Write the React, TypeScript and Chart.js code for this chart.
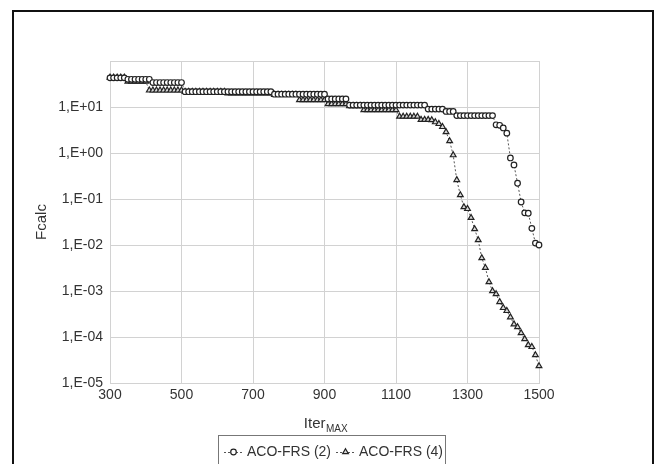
import React, { useEffect, useRef } from 'react';
import { Chart, registerables } from 'chart.js';

Chart.register(...registerables);

const FONT = '"Liberation Sans", Arial, Helvetica, sans-serif';

const iterations = [
  300, 310, 320, 330, 340, 350, 360, 370, 380, 390,
  400, 410, 420, 430, 440, 450, 460, 470, 480, 490,
  500, 510, 520, 530, 540, 550, 560, 570, 580, 590,
  600, 610, 620, 630, 640, 650, 660, 670, 680, 690,
  700, 710, 720, 730, 740, 750, 760, 770, 780, 790,
  800, 810, 820, 830, 840, 850, 860, 870, 880, 890,
  900, 910, 920, 930, 940, 950, 960, 970, 980, 990,
  1000, 1010, 1020, 1030, 1040, 1050, 1060, 1070, 1080, 1090,
  1100, 1110, 1120, 1130, 1140, 1150, 1160, 1170, 1180, 1190,
  1200, 1210, 1220, 1230, 1240, 1250, 1260, 1270, 1280, 1290,
  1300, 1310, 1320, 1330, 1340, 1350, 1360, 1370, 1380, 1390,
  1400, 1410, 1420, 1430, 1440, 1450, 1460, 1470, 1480, 1490,
  1500,
];

// ACO-FRS (2) — circles
const acoFrs2 = [
  43, 43, 43, 43, 43, 40, 40, 40, 40, 40,
  40, 40, 34, 34, 34, 34, 34, 34, 34, 34,
  34, 21.5, 21.5, 21.5, 21.5, 21.5, 21.5, 21.5, 21.5, 21.5,
  21.5, 21.5, 21.5, 21.5, 21.5, 21.5, 21.5, 21.5, 21.5, 21.5,
  21.5, 21.5, 21.5, 21.5, 21.5, 21.5, 19, 19, 19, 19,
  19, 19, 19, 19, 19, 19, 19, 19, 19, 19,
  19, 15, 15, 15, 15, 15, 15, 11, 11, 11,
  11, 11, 11, 11, 11, 11, 11, 11, 11, 11,
  11, 11, 11, 11, 11, 11, 11, 11, 11, 9,
  9, 9, 9, 9, 8, 8, 8, 6.5, 6.5, 6.5,
  6.5, 6.5, 6.5, 6.5, 6.5, 6.5, 6.5, 6.5, 4.1, 4.0,
  3.5, 2.7, 0.78, 0.55, 0.22, 0.086, 0.05, 0.049, 0.023, 0.011,
  0.010,
];

// ACO-FRS (4) — triangles
const acoFrs4 = [
  44, 44, 44, 44, 44, 36, 36, 36, 36, 36,
  36, 23, 23, 23, 23, 23, 23, 23, 23, 23,
  23, 21.5, 21.5, 21.5, 21.5, 21.5, 21.5, 21.5, 21.5, 21.5,
  21.5, 21.5, 21.5, 20, 20, 20, 20, 20, 20, 20,
  20, 20, 20, 20, 20, 20, 18.5, 18.5, 18.5, 18.5,
  18.5, 18.5, 18.5, 14.2, 14.2, 14.2, 14.2, 14.2, 14.2, 14.2,
  14.2, 11.6, 11.6, 11.6, 11.6, 11.6, 11.6, 10.5, 10.5, 10.5,
  10.5, 8.6, 8.6, 8.6, 8.6, 8.6, 8.6, 8.6, 8.6, 8.6,
  8.6, 6.2, 6.2, 6.2, 6.2, 6.2, 6.2, 5.3, 5.3, 5.3,
  5.2, 4.7, 4.3, 3.7, 2.86, 1.82, 0.9, 0.26, 0.122, 0.067,
  0.061, 0.039, 0.0223, 0.0128, 0.0052, 0.0032, 0.00157, 0.001, 0.00086, 0.00058,
  0.00043, 0.00037, 0.00027, 0.00019, 0.000165, 0.000122, 0.0000906, 0.000067, 0.000061, 0.0000406,
  0.0000234,
];

const seriesNames = ['ACO-FRS (2)', 'ACO-FRS (4)'];
const seriesMarkers = ['circle', 'triangle'];

const xTickValues = [300, 500, 700, 900, 1100, 1300, 1500];
const yTickValues = [1e-5, 1e-4, 1e-3, 1e-2, 1e-1, 1, 10, 100];
const yTickLabels = ['1,E-05', '1,E-04', '1,E-03', '1,E-02', '1,E-01', '1,E+00', '1,E+01', ''];

const yTitle = 'Fcalc';
const xTitleMain = 'Iter';
const xTitleSub = 'MAX';

function drawMarker(ctx: CanvasRenderingContext2D, style: string, x: number, y: number) {
  ctx.save();
  ctx.setLineDash([]);
  ctx.lineWidth = 1.2;
  ctx.strokeStyle = '#222';
  ctx.beginPath();
  if (style === 'circle') {
    ctx.fillStyle = '#fff';
    ctx.arc(x, y, 2.8, 0, Math.PI * 2);
  } else {
    ctx.fillStyle = '#d8d8d8';
    const r = 3.3;
    ctx.moveTo(x, y - r);
    ctx.lineTo(x + r * 0.866, y + r * 0.5);
    ctx.lineTo(x - r * 0.866, y + r * 0.5);
    ctx.closePath();
  }
  ctx.fill();
  ctx.stroke();
  ctx.restore();
}

const decorPlugin = {
  id: 'decor',
  afterDraw(chart: any) {
    const ctx: CanvasRenderingContext2D = chart.ctx;
    const area = chart.chartArea;
    ctx.save();
    // outer frame
    ctx.strokeStyle = '#111';
    ctx.lineWidth = 2;
    ctx.strokeRect(13, 11, 640, 480);

    // y title
    ctx.save();
    ctx.fillStyle = '#333';
    ctx.font = `15px ${FONT}`;
    ctx.translate(42, (area.top + area.bottom) / 2);
    ctx.rotate(-Math.PI / 2);
    ctx.textAlign = 'center';
    ctx.textBaseline = 'middle';
    ctx.fillText(yTitle, 0, 0);
    ctx.restore();

    // x title with subscript
    ctx.fillStyle = '#333';
    ctx.textAlign = 'left';
    ctx.textBaseline = 'alphabetic';
    ctx.font = `15px ${FONT}`;
    const wMain = ctx.measureText(xTitleMain).width;
    ctx.font = `10px ${FONT}`;
    const wSub = ctx.measureText(xTitleSub).width;
    const cx = (area.left + area.right) / 2 + 1;
    const startX = cx - (wMain + wSub) / 2;
    ctx.font = `15px ${FONT}`;
    ctx.fillText(xTitleMain, startX, 428);
    ctx.font = `10px ${FONT}`;
    ctx.fillText(xTitleSub, startX + wMain + 0.5, 432);

    // legend box
    ctx.strokeStyle = '#777';
    ctx.lineWidth = 1;
    ctx.strokeRect(218.5, 435.5, 227, 40);
    ctx.font = `14px ${FONT}`;
    ctx.textBaseline = 'middle';
    let x = 224;
    const ly = 452;
    seriesNames.forEach((name, i) => {
      ctx.save();
      ctx.strokeStyle = '#555';
      ctx.lineWidth = 1;
      ctx.setLineDash([2, 2]);
      ctx.beginPath();
      ctx.moveTo(x, ly + 0.5);
      ctx.lineTo(x + 19, ly + 0.5);
      ctx.stroke();
      ctx.restore();
      drawMarker(ctx, seriesMarkers[i], x + 9.5, ly);
      ctx.fillStyle = '#333';
      ctx.fillText(name, x + 23, ly);
      x = x + 23 + ctx.measureText(name).width + 5;
    });
    ctx.restore();
  },
};

export default function App() {
  const canvasRef = useRef<HTMLCanvasElement | null>(null);

  useEffect(() => {
    if (!canvasRef.current) return;
    Chart.defaults.font.family = FONT;
    const gridColor = '#d2d2d2';
    const chart = new Chart(canvasRef.current, {
      type: 'line',
      data: {
        datasets: [
          {
            label: seriesNames[0],
            data: iterations.map((it, i) => ({ x: it, y: acoFrs2[i] })),
            borderColor: '#555',
            borderWidth: 1,
            borderDash: [2, 2],
            pointStyle: 'circle',
            pointRadius: 2.8,
            pointBorderColor: '#222',
            pointBackgroundColor: '#fff',
            pointBorderWidth: 1.2,
            fill: false,
            tension: 0,
            clip: false,
          },
          {
            label: seriesNames[1],
            data: iterations.map((it, i) => ({ x: it, y: acoFrs4[i] })),
            borderColor: '#555',
            borderWidth: 1,
            borderDash: [2, 2],
            pointStyle: 'triangle',
            pointRadius: 3.3,
            pointBorderColor: '#222',
            pointBackgroundColor: '#d8d8d8',
            pointBorderWidth: 1.2,
            fill: false,
            tension: 0,
            clip: false,
          },
        ],
      },
      options: {
        animation: false,
        responsive: false,
        devicePixelRatio: 1,
        layout: { padding: { left: 0, right: 118, top: 61, bottom: 0 } },
        plugins: {
          legend: { display: false },
          tooltip: { enabled: false },
          title: { display: false },
        },
        scales: {
          x: {
            type: 'linear',
            min: 300,
            max: 1500,
            afterBuildTicks: (s: any) => {
              s.ticks = xTickValues.map((v) => ({ value: v }));
            },
            afterFit: (s: any) => {
              s.height = 81;
              s.paddingLeft = 0;
              s.paddingRight = 0;
            },
            grid: { color: gridColor, drawTicks: false, lineWidth: 1 },
            border: { color: gridColor },
            ticks: {
              padding: 4,
              color: '#333',
              font: { family: FONT, size: 14 },
              maxRotation: 0,
              autoSkip: false,
              callback: (v: any) => String(v),
            },
          },
          y: {
            type: 'logarithmic',
            min: 1e-5,
            max: 100,
            afterBuildTicks: (s: any) => {
              s.ticks = yTickValues.map((v) => ({ value: v }));
            },
            afterFit: (s: any) => {
              s.width = 110;
              s.paddingTop = 0;
              s.paddingBottom = 0;
            },
            grid: { color: gridColor, drawTicks: false, lineWidth: 1 },
            border: { color: gridColor },
            ticks: {
              padding: 7,
              color: '#333',
              font: { family: FONT, size: 14 },
              autoSkip: false,
              callback: (_v: any, i: number) => yTickLabels[i],
            },
          },
        },
      } as any,
      plugins: [decorPlugin],
    });
    return () => chart.destroy();
  }, []);

  return (
    <div style={{ position: 'fixed', left: 0, top: 0, width: 657, height: 464, background: '#fff' }}>
      <canvas ref={canvasRef} width={657} height={464} style={{ display: 'block', width: 657, height: 464 }} />
    </div>
  );
}
